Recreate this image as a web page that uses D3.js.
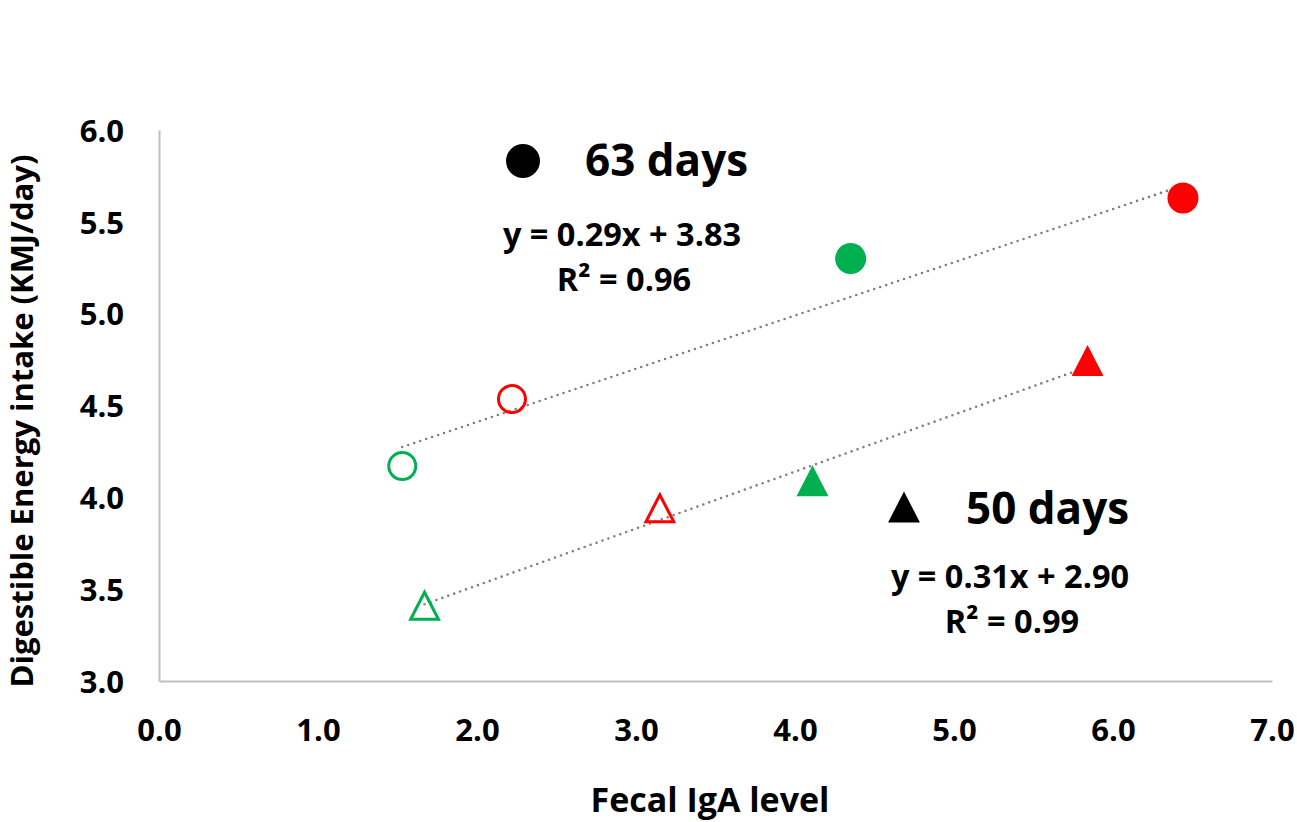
<!DOCTYPE html>
<html>
<head>
<meta charset="utf-8">
<script src="https://cdn.jsdelivr.net/npm/d3@7"></script>
<style>
  html, body { margin: 0; padding: 0; background: #fff; }
  svg { display: block; font-family: "Open Sans", "Liberation Sans", sans-serif; font-weight: 700; }
</style>
</head>
<body>
<svg id="chart" width="1297" height="822"></svg>
<script>
// Fecal IgA level vs digestible energy intake, two ages
const xTicks = [0, 1, 2, 3, 4, 5, 6, 7];
const yTicks = [3.0, 3.5, 4.0, 4.5, 5.0, 5.5, 6.0];

// 63-day group (circles): open = first two, filled = last two
const day63X = [1.53, 2.22, 4.35, 6.44];
const day63Y = [4.17, 4.535, 5.30, 5.63];
const day63Color = ["green", "red", "green", "red"];
const day63Filled = [false, false, true, true];
const day63Fit = { slope: 0.29, intercept: 3.83, r2: 0.96 };

// 50-day group (triangles)
const day50X = [1.67, 3.15, 4.11, 5.84];
const day50Y = [3.41, 3.94, 4.09, 4.745];
const day50Color = ["green", "red", "green", "red"];
const day50Filled = [false, false, true, true];
const day50Fit = { slope: 0.31, intercept: 2.90, r2: 0.99 };

const colors = { green: "#00b050", red: "#ff0000" };

const svg = d3.select("#chart");
const plotLeft = 159, plotRight = 1272, plotTop = 130, plotBottom = 681;

const x = d3.scaleLinear().domain([0, 7]).range([plotLeft, plotRight]);
const y = d3.scaleLinear().domain([3, 6]).range([plotBottom, plotTop]);

// Axes (no tick marks, grey axis lines)
const xAxis = svg.append("g").attr("transform", `translate(0,${plotBottom})`)
  .call(d3.axisBottom(x).tickValues(xTicks).tickFormat(d3.format(".1f")).tickSize(0).tickPadding(0));
xAxis.select(".domain").attr("stroke", "#bfbfbf").attr("stroke-width", 2);
xAxis.selectAll("text").attr("dy", null).attr("y", 60)
  .attr("font-size", 31).attr("font-family", "Open Sans").attr("font-weight", 700).attr("fill", "#000");

const yAxis = svg.append("g").attr("transform", `translate(${plotLeft},0)`)
  .call(d3.axisLeft(y).tickValues(yTicks).tickFormat(d3.format(".1f")).tickSize(0).tickPadding(0));
yAxis.select(".domain").attr("stroke", "#bfbfbf").attr("stroke-width", 2);
yAxis.selectAll("text").attr("x", -35).attr("dy", "0.36em")
  .attr("font-size", 31).attr("font-family", "Open Sans").attr("font-weight", 700).attr("fill", "#000");

// Axis titles
svg.append("text").attr("x", 710).attr("y", 812).attr("text-anchor", "middle")
  .attr("font-size", 34).attr("fill", "#000").text("Fecal IgA level");
svg.append("text").attr("transform", "translate(33,421) rotate(-90)").attr("text-anchor", "middle")
  .attr("font-size", 31).attr("fill", "#000").text("Digestible Energy intake (KMJ/day)");

// Trend lines (dotted) across each series' x range
function trend(xs, fit) {
  const x0 = d3.min(xs), x1 = d3.max(xs);
  svg.append("line")
    .attr("x1", x(x0)).attr("y1", y(fit.slope * x0 + fit.intercept))
    .attr("x2", x(x1)).attr("y2", y(fit.slope * x1 + fit.intercept))
    .attr("stroke", "#808080").attr("stroke-width", 2.6)
    .attr("stroke-linecap", "round").attr("stroke-dasharray", "0 6.3");
}
trend(day63X, day63Fit);
trend(day50X, day50Fit);

// Markers
const tri = (s) => `M0,${-s}L${s * 1.03},${s}L${-s * 1.03},${s}Z`;

day63X.forEach((xv, i) => {
  const c = colors[day63Color[i]];
  svg.append("circle").attr("cx", x(xv)).attr("cy", y(day63Y[i]))
    .attr("r", day63Filled[i] ? 15.5 : 13.5)
    .attr("fill", day63Filled[i] ? c : "none")
    .attr("stroke", day63Filled[i] ? "none" : c).attr("stroke-width", 3);
});
day50X.forEach((xv, i) => {
  const c = colors[day50Color[i]];
  const filled = day50Filled[i];
  svg.append("path").attr("d", tri(filled ? 15.5 : 13.5))
    .attr("transform", `translate(${x(xv)},${y(day50Y[i])})`)
    .attr("fill", filled ? c : "none")
    .attr("stroke", filled ? "none" : c).attr("stroke-width", 3)
    .attr("stroke-linejoin", "miter");
});

// Group labels with fit equations
function groupLabel(symbol, sx, sy, name, nx, ny, fit, ex, ey) {
  if (symbol === "circle") {
    svg.append("circle").attr("cx", sx).attr("cy", sy).attr("r", 17).attr("fill", "#000");
  } else {
    svg.append("path").attr("d", tri(15.5)).attr("transform", `translate(${sx},${sy})`).attr("fill", "#000");
  }
  svg.append("text").attr("x", nx).attr("y", ny).attr("font-size", 44).attr("fill", "#000").text(name);
  svg.append("text").attr("x", ex).attr("y", ey).attr("text-anchor", "middle").attr("font-size", 32.5)
    .attr("fill", "#000")
    .text(`y = ${fit.slope.toFixed(2)}x + ${fit.intercept.toFixed(2)}`);
  svg.append("text").attr("x", ex + 2).attr("y", ey + 45).attr("text-anchor", "middle").attr("font-size", 32.5)
    .attr("fill", "#000").text(`R² = ${fit.r2.toFixed(2)}`);
}
groupLabel("circle", 523, 161, "63 days", 585, 176, day63Fit, 622, 246);
groupLabel("triangle", 904, 507, "50 days", 966, 524, day50Fit, 1010, 588);
</script>
</body>
</html>
